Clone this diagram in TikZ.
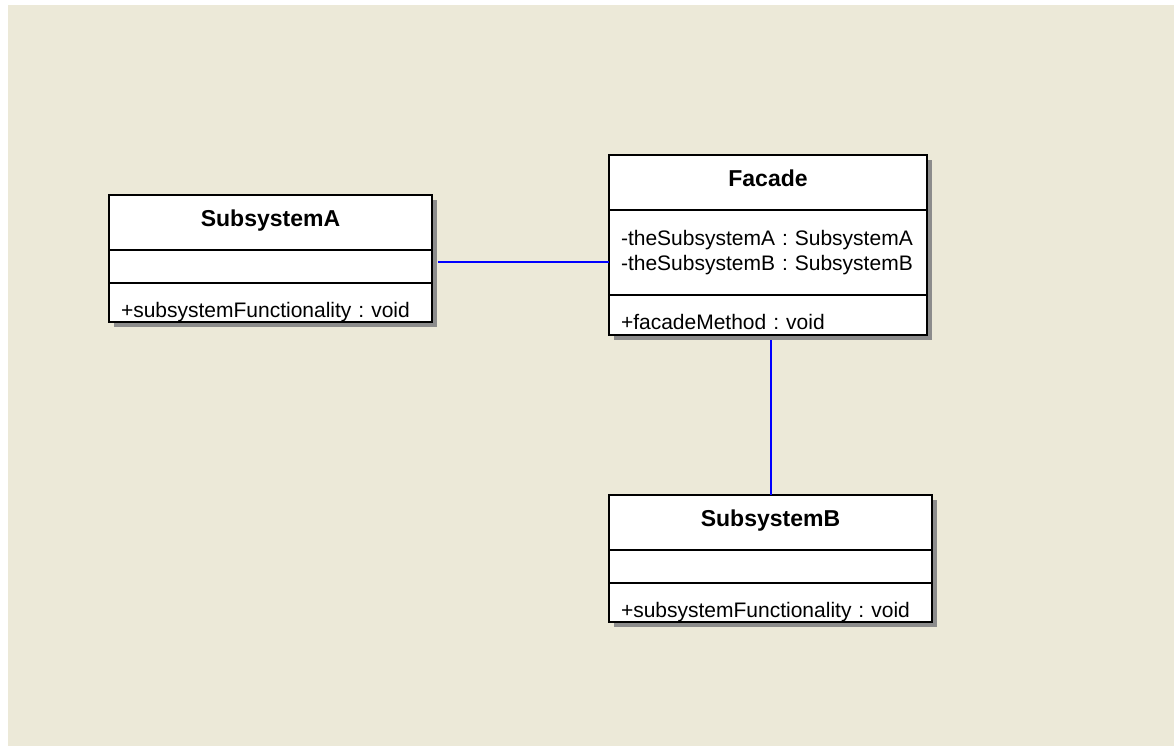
\documentclass[tikz,border=0pt]{standalone}
\usepackage{fontspec}
\setmainfont{Liberation Sans}
\frenchspacing
\usetikzlibrary{positioning,calc,shadows}
\definecolor{desk}{HTML}{ECE9D8}

\begin{document}
\begin{tikzpicture}[
    x=1pt, y=-1pt,
    part/.style={draw,line width=2pt,fill=white,inner xsep=12pt,inner ysep=0pt,outer sep=0pt,
        align=left,font=\fontsize{21}{25}\selectfont,
        drop shadow={shadow xshift=5pt,shadow yshift=-5pt,fill=black!45,opacity=1}},
    cname/.style={part,align=center,font=\fontsize{23}{25}\selectfont\bfseries,
        text height=31pt,text depth=24pt},
    cattr/.style={part,text height=#1,text depth=33pt},
    cattr/.default=0pt,
    cops/.style={part,text height=34pt,text depth=#1},
    cops/.default=5pt,
    assoc/.style={draw=blue,line width=2pt}
    ]
    \useasboundingbox[fill=white] (0,0) rectangle (1174,746);
    \fill[desk] (8,5) rectangle (1174,746);

    % SubsystemA
    \node [cname,text width=299pt,anchor=north west] (A-name) at (109,195) {SubsystemA};
    \node [cattr,text width=299pt,below=0pt of A-name] (A-attr) {};
    \node [cops,text width=299pt,below=0pt of A-attr] (A-ops) {+subsystemFunctionality : void};

    % Facade
    \node [cname,text width=294pt,anchor=north west] (F-name) at (609,155) {Facade};
    \node [part,text width=294pt,text height=35pt,text depth=50pt,below=0pt of F-name] (F-attr)
        {-theSubsystemA : SubsystemA\\-theSubsystemB : SubsystemB};
    \node [cops=6pt,text width=294pt,below=0pt of F-attr] (F-ops) {+facadeMethod : void};

    % SubsystemB
    \node [cname,text width=299pt,anchor=north west] (B-name) at (609,495) {SubsystemB};
    \node [cattr,text width=299pt,below=0pt of B-name] (B-attr) {};
    \node [cops,text width=299pt,below=0pt of B-attr] (B-ops) {+subsystemFunctionality : void};

    % associations
    \coordinate (A-link) at ([shift={(6pt,4.5pt)}]A-attr.east);
    \coordinate (F-link) at ([shift={(3pt,-5pt)}]F-ops.south);
    \draw [assoc] (A-link) -- (A-link -| F-attr.west);
    \draw [assoc] (F-link) -- (F-link |- B-name.north);

\end{tikzpicture}
\end{document}
